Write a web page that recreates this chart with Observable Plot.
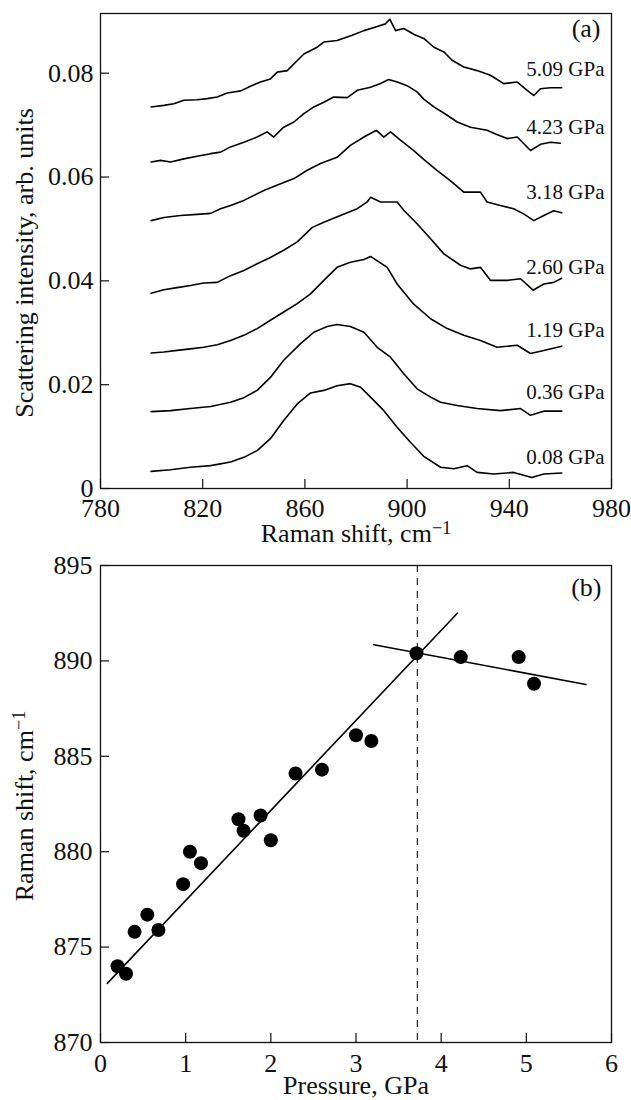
<!DOCTYPE html>
<html><head><meta charset="utf-8">
<script src="https://cdn.jsdelivr.net/npm/d3@7"></script>
<script src="https://cdn.jsdelivr.net/npm/@observablehq/plot@0.6"></script>
<style>
body{margin:0;background:#fff;}
#chart{width:631px;}
#chart svg{display:block;}
</style></head><body><div id="chart"></div>
<script>
// ---------- Panel (a): Raman spectra [shift cm^-1, intensity] ----------
const spec509 = [[799.8,0.0735],[804.8,0.0738],[808.7,0.0741],[812.6,0.0748],[817.8,0.0749],[821.8,0.0751],[825.7,0.0754],[829.6,0.0762],[834.9,0.0766],[838.7,0.0775],[842.6,0.0783],[846.5,0.0789],[849.2,0.0802],[853.1,0.0805],[855.7,0.0818],[859.6,0.0837],[864.8,0.0850],[867.4,0.0860],[872.6,0.0863],[878.5,0.0873],[883.1,0.0882],[888.3,0.0890],[891.5,0.0895],[893.2,0.0904],[895.5,0.0882],[898.7,0.0886],[902.6,0.0875],[906.5,0.0867],[910.5,0.0850],[914.4,0.0841],[917.6,0.0825],[922.2,0.0812],[927.4,0.0805],[932.6,0.0796],[937.8,0.0780],[943.1,0.0783],[947.0,0.0767],[949.6,0.0757],[952.2,0.0770],[956.1,0.0772],[960.5,0.0772]];
const spec423 = [[799.8,0.0629],[803.5,0.0632],[807.4,0.0629],[812.6,0.0635],[817.8,0.0640],[823.1,0.0645],[827.0,0.0648],[830.9,0.0658],[836.1,0.0667],[841.3,0.0677],[845.2,0.0687],[847.8,0.0677],[851.7,0.0696],[855.7,0.0706],[859.6,0.0722],[863.5,0.0735],[867.4,0.0744],[871.3,0.0754],[876.6,0.0753],[880.5,0.0767],[885.7,0.0773],[889.6,0.0780],[892.8,0.0788],[896.1,0.0783],[900.0,0.0776],[903.9,0.0764],[906.5,0.0750],[910.5,0.0735],[915.7,0.0719],[919.6,0.0706],[924.8,0.0696],[931.3,0.0690],[934.6,0.0683],[939.2,0.0674],[943.1,0.0677],[948.3,0.0651],[952.2,0.0663],[956.1,0.0667],[960.0,0.0665]];
const spec318 = [[799.8,0.0516],[804.8,0.0522],[811.3,0.0526],[817.8,0.0528],[823.1,0.0530],[827.0,0.0539],[830.9,0.0545],[836.1,0.0555],[843.9,0.0574],[850.5,0.0587],[855.7,0.0597],[860.9,0.0613],[866.1,0.0626],[872.6,0.0638],[877.8,0.0661],[883.1,0.0677],[888.0,0.0690],[890.9,0.0677],[893.5,0.0687],[897.4,0.0671],[902.6,0.0651],[906.5,0.0634],[911.7,0.0613],[916.9,0.0593],[922.2,0.0571],[928.7,0.0571],[931.3,0.0552],[936.5,0.0545],[941.7,0.0539],[945.6,0.0529],[949.6,0.0516],[953.5,0.0526],[957.4,0.0535],[960.5,0.0531]];
const spec260 = [[799.8,0.0376],[804.8,0.0383],[810.0,0.0387],[815.2,0.0391],[820.4,0.0396],[825.7,0.0397],[830.9,0.0410],[836.1,0.0420],[841.3,0.0433],[846.5,0.0445],[851.7,0.0459],[857.0,0.0475],[862.9,0.0503],[867.4,0.0513],[873.9,0.0526],[880.5,0.0539],[884.4,0.0552],[885.7,0.0561],[889.6,0.0552],[896.1,0.0552],[898.7,0.0536],[903.9,0.0510],[909.2,0.0481],[914.4,0.0452],[920.9,0.0430],[924.8,0.0423],[928.7,0.0426],[932.6,0.0401],[939.2,0.0401],[944.4,0.0404],[949.3,0.0382],[953.5,0.0394],[957.4,0.0397],[960.5,0.0405]];
const spec119 = [[799.8,0.0261],[804.8,0.0263],[810.0,0.0266],[815.2,0.0269],[820.4,0.0272],[825.7,0.0277],[830.9,0.0285],[836.1,0.0295],[841.3,0.0308],[846.5,0.0324],[851.7,0.0340],[857.0,0.0356],[862.2,0.0375],[867.4,0.0401],[872.6,0.0426],[877.8,0.0436],[883.1,0.0441],[885.7,0.0447],[892.2,0.0426],[896.1,0.0394],[902.6,0.0355],[909.2,0.0327],[915.7,0.0308],[922.2,0.0295],[928.7,0.0285],[935.2,0.0272],[943.1,0.0276],[948.3,0.0260],[953.5,0.0266],[960.5,0.0274]];
const spec036 = [[799.8,0.0148],[807.4,0.0150],[815.2,0.0154],[823.1,0.0158],[830.9,0.0166],[836.1,0.0175],[841.3,0.0189],[846.5,0.0214],[851.7,0.0247],[858.3,0.0279],[863.5,0.0301],[868.7,0.0312],[872.6,0.0316],[877.8,0.0312],[883.1,0.0301],[888.3,0.0272],[893.5,0.0253],[898.7,0.0221],[903.9,0.0192],[909.2,0.0176],[913.1,0.0166],[919.6,0.0160],[927.4,0.0154],[936.5,0.0150],[944.4,0.0154],[948.3,0.0141],[953.5,0.0149],[960.5,0.0149]];
const spec008 = [[799.8,0.0033],[807.4,0.0036],[815.2,0.0041],[823.1,0.0044],[830.9,0.0051],[836.1,0.0060],[841.3,0.0073],[846.5,0.0096],[851.7,0.0131],[857.0,0.0163],[862.2,0.0184],[867.4,0.0189],[872.6,0.0198],[877.8,0.0202],[881.8,0.0195],[885.7,0.0176],[890.9,0.0150],[896.1,0.0118],[901.3,0.0089],[906.5,0.0062],[913.1,0.0041],[918.3,0.0038],[923.5,0.0044],[927.4,0.0031],[933.9,0.0028],[941.7,0.0031],[948.8,0.0021],[953.5,0.0028],[960.5,0.0030]];

const curveLabels = ["5.09 GPa","4.23 GPa","3.18 GPa","2.60 GPa","1.19 GPa","0.36 GPa","0.08 GPa"];
const labelIntensity = [0.0807,0.0696,0.0571,0.0426,0.0304,0.0186,0.0060];
const spectraList = [spec509, spec423, spec318, spec260, spec119, spec036, spec008];

const shiftTicks = [780, 820, 860, 900, 940, 980];
const intensityTicks = [0, 0.02, 0.04, 0.06, 0.08];

// ---------- Panel (b): Raman shift vs pressure ----------
const pressure = [0.20,0.30,0.40,0.55,0.68,0.97,1.05,1.18,1.62,1.68,1.88,2.00,2.29,2.60,3.00,3.18,3.71,4.23,4.91,5.09];
const ramanShift = [874.0,873.6,875.8,876.7,875.9,878.3,880.0,879.4,881.7,881.1,881.9,880.6,884.1,884.3,886.1,885.8,890.4,890.2,890.2,888.8];
const fitLowP = [0.08, 4.19];
const fitLowS = [873.1, 892.5];
const fitHighP = [3.21, 5.70];
const fitHighS = [890.85, 888.76];
const transitionP = [3.72];
const pressureTicks = [0, 1, 2, 3, 4, 5, 6];
const shiftTicksB = [870, 875, 880, 885, 890, 895];

// ---------- build ----------
const FONT = "'Liberation Serif', 'Times New Roman', Times, serif";
const INK = "#111";
const W = 631, ML = 100, MR = 20;

const spectraRows = spectraList.flatMap((s, i) => s.map(([x, y]) => ({series: curveLabels[i], shift: x, intensity: y})));
const labelRows = curveLabels.map((t, i) => ({text: t, y: labelIntensity[i]}));

const HA = 550, MTA = 13, MBA = 62;
const frameHA = HA - MTA - MBA, frameW = W - ML - MR;
const fmtA = d => d === 0 ? "0" : d.toFixed(2);

const plotA = Plot.plot({
  width: W, height: HA, marginLeft: ML, marginRight: MR, marginTop: MTA, marginBottom: MBA,
  style: {fontFamily: FONT, fontSize: "26px", color: INK, background: "white"},
  x: {domain: [780, 980], label: null},
  y: {domain: [0, 0.0915], label: null},
  marks: [
    Plot.axisX({ticks: shiftTicks, tickSize: 0, tickPadding: 10, tickFormat: d => String(d), label: null}),
    Plot.axisY({ticks: intensityTicks, tickSize: 0, tickPadding: 7, tickFormat: fmtA, label: null}),
    Plot.tickX(shiftTicks, {x: d => d, insetTop: frameHA - 9, stroke: INK, strokeWidth: 1.2}),
    Plot.tickY(intensityTicks, {y: d => d, insetRight: frameW - 9, stroke: INK, strokeWidth: 1.2}),
    Plot.line(spectraRows, {x: "shift", y: "intensity", z: "series", stroke: "#000", strokeWidth: 1.6, strokeLinejoin: "round"}),
    Plot.text(labelRows, {y: "y", text: "text", frameAnchor: "right", textAnchor: "end", dx: -7, fontSize: 21, fill: INK}),
    Plot.text(["(a)"], {text: d => d, frameAnchor: "top-right", textAnchor: "end", lineAnchor: "top", dx: -11, dy: 5, fontSize: 26, fill: INK}),
    Plot.text(["Raman shift, cm−1"], {text: d => d, frameAnchor: "bottom", textAnchor: "middle", lineAnchor: "top", dy: 35, fontSize: 26, fill: INK}),
    Plot.text(["Scattering intensity, arb. units"], {text: d => d, frameAnchor: "left", textAnchor: "middle", rotate: -90, lineAnchor: "middle", dx: -76, dy: 12, fontSize: 26, fill: INK}),
    Plot.frame({stroke: INK, strokeWidth: 1.3})
  ]
});

const HB = 550, MTB = 15, MBB = 58;
const frameHB = HB - MTB - MBB;
const dots = pressure.map((p, i) => ({p, s: ramanShift[i]}));
const fitLow = fitLowP.map((p, i) => ({p, s: fitLowS[i]}));
const fitHigh = fitHighP.map((p, i) => ({p, s: fitHighS[i]}));

const plotB = Plot.plot({
  width: W, height: HB, marginLeft: ML, marginRight: MR, marginTop: MTB, marginBottom: MBB,
  style: {fontFamily: FONT, fontSize: "26px", color: INK, background: "white"},
  x: {domain: [0, 6], label: null},
  y: {domain: [870, 895], label: null},
  marks: [
    Plot.axisX({ticks: pressureTicks, tickSize: 0, tickPadding: 11, tickFormat: d => String(d), label: null}),
    Plot.axisY({ticks: shiftTicksB, tickSize: 0, tickPadding: 8, tickFormat: d => String(d), label: null}),
    Plot.tickX(pressureTicks, {x: d => d, insetTop: frameHB - 9, stroke: INK, strokeWidth: 1.2}),
    Plot.tickY(shiftTicksB, {y: d => d, insetRight: frameW - 9, stroke: INK, strokeWidth: 1.2}),
    Plot.ruleX(transitionP, {x: d => d, stroke: INK, strokeWidth: 1.1, strokeDasharray: "7,6"}),
    Plot.line(fitLow, {x: "p", y: "s", stroke: "#000", strokeWidth: 1.6}),
    Plot.line(fitHigh, {x: "p", y: "s", stroke: "#000", strokeWidth: 1.6}),
    Plot.dot(dots, {x: "p", y: "s", r: 7, fill: "#000", stroke: "none"}),
    Plot.text(["(b)"], {text: d => d, frameAnchor: "top-right", textAnchor: "end", lineAnchor: "top", dx: -10, dy: 12, fontSize: 26, fill: INK}),
    Plot.text(["Pressure, GPa"], {text: d => d, frameAnchor: "bottom", textAnchor: "middle", lineAnchor: "top", dy: 33, fontSize: 26, fill: INK}),
    Plot.text(["Raman shift, cm−1"], {text: d => d, frameAnchor: "left", textAnchor: "middle", rotate: -90, lineAnchor: "middle", dx: -76, dy: 2, fontSize: 26, fill: INK}),
    Plot.frame({stroke: INK, strokeWidth: 1.3})
  ]
});

// superscript "−1" in the cm−1 labels
for (const svg of [plotA, plotB]) {
  d3.select(svg).selectAll("text").each(function() {
    if (this.childElementCount === 0 && this.textContent === "Raman shift, cm−1") {
      const t = d3.select(this);
      t.text("Raman shift, cm");
      t.append("tspan").attr("dy", "-0.45em").attr("font-size", "0.7em").text("−1");
    }
  });
}

document.getElementById("chart").append(plotA, plotB);
</script>
</body></html>
